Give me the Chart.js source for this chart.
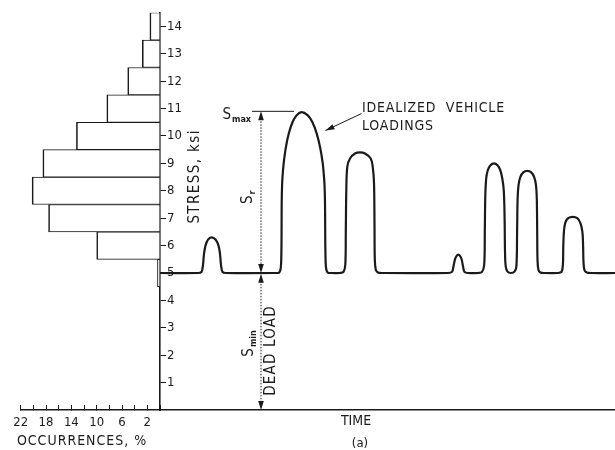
<!DOCTYPE html>
<html>
<head>
<meta charset="utf-8">
<script src="https://cdn.jsdelivr.net/npm/chart.js@4"></script>
<style>
  html, body { margin: 0; padding: 0; background: #fff; }
  #wrap { position: relative; width: 615px; height: 450px; }
  canvas { position: absolute; top: 0; left: 0; }
</style>
</head>
<body>
<div id="wrap">
  <canvas id="histChart" width="190" height="450"></canvas>
  <canvas id="timeChart" width="615" height="450"></canvas>
</div>
<script>
// stress histogram (left panel)
const stressBins = [5, 6, 7, 8, 9, 10, 11, 12, 13, 14];
const occurrencePct = [0.4, 10.0, 17.6, 20.2, 18.5, 13.2, 8.4, 5.1, 2.8, 1.6];
const stressTicks = [1, 2, 3, 4, 5, 6, 7, 8, 9, 10, 11, 12, 13, 14];
const occLabels = [2, 6, 10, 14, 18, 22];

// idealized stress history (right panel), time in arbitrary units
const timePts = [0, 38, 41.5, 43, 44, 45.5, 48, 51.7, 55.5, 58.5, 60, 61, 62.5, 66,
  116, 119.3, 120.8, 121.4, 121.6, 121.7, 122.1, 122.7, 123.7, 125.7, 128.7, 132.7, 136.7, 141.7,
  147.5, 152.2, 156.8, 160.3, 162.7, 163.8, 164.5, 165, 165.2, 165.4, 166, 167.6, 171,
  180, 183.5, 185.3, 185.8, 186.3, 187.3, 190, 195, 200, 205, 210.7, 212.7, 214, 214.5, 214.8, 215.8, 218, 222,
  288, 292, 293.5, 295, 296.8, 298.3, 299.8, 301.6, 303, 304.5, 308,
  318, 322, 324.2, 324.8, 325.3, 326.2, 327.8, 330.5, 334, 337.5, 340.3, 342.3, 343.8, 344.6, 345, 345.7, 347.5, 351,
  354.5, 356.4, 357.1, 357.6, 358.5, 360.3, 363.5, 367.3, 371, 374.2, 376, 376.8, 377.2, 377.5, 378.4, 380.5, 384,
  398, 401.5, 402.9, 403.3, 403.9, 405.2, 408.2, 412.7, 417.3, 420.4, 422.4, 423.1, 423.5, 424.5, 426.8, 431, 455];
const stressPts = [5.0, 5.0, 5.04, 5.3, 5.7, 6.0, 6.22, 6.3, 6.22, 6.0, 5.7, 5.3, 5.04, 5.0,
  5.0, 5.02, 5.2, 5.8, 6.8, 7.57, 8.23, 8.6, 9.01, 9.55, 10.08, 10.52, 10.76, 10.87,
  10.76, 10.52, 10.08, 9.55, 9.01, 8.6, 8.23, 7.57, 6.6, 5.8, 5.2, 5.02, 5.0,
  5.0, 5.04, 5.3, 6.5, 8.0, 8.88, 9.18, 9.36, 9.4, 9.36, 9.18, 8.88, 8.3, 6.8, 5.5, 5.12, 5.02, 5.0,
  5.0, 5.04, 5.25, 5.5, 5.63, 5.67, 5.63, 5.5, 5.25, 5.04, 5.0,
  5.0, 5.04, 5.3, 6.5, 7.8, 8.45, 8.75, 8.93, 9.0, 8.93, 8.75, 8.45, 8.0, 7.0, 5.8, 5.25, 5.05, 5.0,
  5.05, 5.25, 6.5, 7.7, 8.2, 8.5, 8.68, 8.73, 8.68, 8.5, 8.2, 7.7, 6.5, 5.5, 5.12, 5.02, 5.0,
  5.0, 5.04, 5.3, 6.0, 6.5, 6.82, 7.0, 7.05, 7.0, 6.82, 6.5, 6.0, 5.4, 5.1, 5.02, 5.0, 5.0];

const ink = '#1a1a1a';
const family = "'DejaVu Sans Condensed', 'Liberation Sans', sans-serif";

function arrowTip(ctx, x, y, ang) {
    ctx.save();
    ctx.translate(x, y);
    ctx.rotate(ang);
    ctx.beginPath();
    ctx.moveTo(0, 0);
    ctx.lineTo(-9, -2.8);
    ctx.lineTo(-9, 2.8);
    ctx.closePath();
    ctx.fill();
    ctx.restore();
}

// "S" with a subscript, centred on (cx, cy)
function subLabel(ctx, cx, cy, main, sub, rot) {
    ctx.save();
    ctx.translate(cx, cy);
    if (rot) ctx.rotate(rot);
    ctx.textBaseline = 'middle';
    ctx.textAlign = 'left';
    ctx.font = `15px ${family}`;
    let w1 = ctx.measureText(main).width;
    ctx.font = `9px ${family}`;
    let w2 = ctx.measureText(sub).width;
    let x0 = -(w1 + w2 + 1) / 2;
    ctx.font = `15px ${family}`;
    ctx.fillText(main, x0, 0);
    ctx.font = `bold 9px ${family}`;
    ctx.fillText(sub, x0 + w1 + 1, 5);
    ctx.restore();
}

function rotText(ctx, cx, cy, text, size, spacing) {
    ctx.save();
    ctx.translate(cx, cy);
    ctx.rotate(-Math.PI / 2);
    ctx.textAlign = 'center';
    ctx.textBaseline = 'middle';
    ctx.font = `${size}px ${family}`;
    ctx.letterSpacing = spacing + 'px';
    ctx.fillText(text, spacing / 2, 0);
    ctx.restore();
}

function dimLine(ctx, x, yTop, yBot) {
    ctx.save();
    ctx.lineWidth = 1;
    ctx.setLineDash([1.5, 1.5]);
    ctx.beginPath();
    ctx.moveTo(x, yTop + 4);
    ctx.lineTo(x, yBot - 4);
    ctx.stroke();
    ctx.restore();
    arrowTip(ctx, x, yTop, -Math.PI / 2);
    arrowTip(ctx, x, yBot, Math.PI / 2);
}

const annotate = {
    id: 'annotate',
    afterDraw(chart) {
        const {ctx, scales: {x, y}} = chart;
        const px = t => x.getPixelForValue(t);
        const py = s => y.getPixelForValue(s);
        ctx.save();
        ctx.fillStyle = ink;
        ctx.strokeStyle = ink;

        rotText(ctx, px(35), py(8.5), 'STRESS, ksi', 15, 1.4);

        // S max marker
        subLabel(ctx, px(76), py(10.78), 'S', 'max');
        ctx.lineWidth = 1;
        ctx.beginPath();
        ctx.moveTo(px(92), py(10.9));
        ctx.lineTo(px(134), py(10.9));
        ctx.stroke();

        dimLine(ctx, px(101), py(10.9), py(5.0));
        dimLine(ctx, px(101), py(4.97), py(0));

        subLabel(ctx, px(88), py(7.75), 'S', 'r', -Math.PI / 2);
        subLabel(ctx, px(89), py(2.4), 'S', 'min', -Math.PI / 2);
        rotText(ctx, px(111), py(2.15), 'DEAD LOAD', 15, 1.2);

        // vehicle loading callout
        ctx.save();
        ctx.font = `14px ${family}`;
        ctx.letterSpacing = '0.8px';
        ctx.textAlign = 'left';
        ctx.textBaseline = 'alphabetic';
        ctx.fillText('IDEALIZED  VEHICLE', px(202), py(10.88));
        ctx.fillText('LOADINGS', px(202), py(10.22));
        ctx.restore();
        let x1 = px(201.5), y1 = py(10.82), x2 = px(165.5), y2 = py(10.2);
        ctx.lineWidth = 1;
        ctx.beginPath();
        ctx.moveTo(x1, y1);
        ctx.lineTo(x2, y2);
        ctx.stroke();
        arrowTip(ctx, x2, y2, Math.atan2(y2 - y1, x2 - x1));

        ctx.textAlign = 'center';
        ctx.textBaseline = 'middle';
        ctx.font = `14px ${family}`;
        ctx.fillText('TIME', px(196), py(-0.4));
        ctx.font = `13px ${family}`;
        ctx.fillText('(a)', px(200), py(-1.22));
        ctx.restore();
    }
};

const occTitle = {
    id: 'occTitle',
    afterDraw(chart) {
        const {ctx, scales: {x}} = chart;
        ctx.save();
        ctx.fillStyle = ink;
        ctx.font = `14px ${family}`;
        ctx.letterSpacing = '1px';
        ctx.textAlign = 'left';
        ctx.textBaseline = 'middle';
        ctx.fillText('OCCURRENCES, %', x.getPixelForValue(22.6), x.bottom - 9);
        ctx.restore();
    }
};

new Chart(document.getElementById('histChart'), {
    type: 'bar',
    data: {
        datasets: [{
            data: stressBins.map((s, i) => ({x: occurrencePct[i], y: s})),
            backgroundColor: '#fff',
            borderColor: ink,
            borderWidth: {top: 1, bottom: 1, left: 1.6, right: 0},
            barPercentage: 1,
            categoryPercentage: 1
        }]
    },
    options: {
        indexAxis: 'y',
        responsive: false,
        animation: false,
        layout: {padding: {left: 20.7, top: 12.7, right: 0, bottom: 0}},
        plugins: {legend: {display: false}, tooltip: {enabled: false}},
        scales: {
            x: {
                type: 'linear', reverse: true, min: 0, max: 22, position: 'bottom',
                grid: {drawOnChartArea: false, tickLength: -5, color: ink, lineWidth: 1},
                border: {color: ink, width: 1.5},
                ticks: {
                    stepSize: 2, autoSkip: false, maxRotation: 0, minRotation: 0,
                    padding: 10, color: ink, font: {family: family, size: 13},
                    callback: (v) => occLabels.includes(v) ? String(v) : ''
                },
                afterFit: (s) => { s.height = 40; }
            },
            y: {
                type: 'linear', position: 'right', min: 0, max: 14.5, offset: false,
                afterBuildTicks: (s) => { s.ticks = stressTicks.map(v => ({value: v})); },
                grid: {drawOnChartArea: false, offset: false, tickLength: 6, color: ink, lineWidth: 1},
                border: {color: ink, width: 1.6},
                ticks: {padding: 1, color: ink, font: {family: family, size: 13}},
                afterFit: (s) => { s.width = 30; }
            }
        }
    },
    plugins: [occTitle]
});

new Chart(document.getElementById('timeChart'), {
    type: 'line',
    data: {
        datasets: [{
            data: timePts.map((t, i) => ({x: t, y: stressPts[i]})),
            borderColor: ink,
            borderWidth: 2.2,
            pointRadius: 0,
            fill: false,
            tension: 0.35
        }]
    },
    options: {
        responsive: false,
        animation: false,
        layout: {padding: {left: 160, top: 12.7, right: 0, bottom: 0}},
        plugins: {legend: {display: false}, tooltip: {enabled: false}},
        scales: {
            x: {
                type: 'linear', min: 0, max: 455,
                grid: {display: false},
                ticks: {display: false},
                border: {color: ink, width: 1.5},
                afterFit: (s) => { s.height = 40; }
            },
            y: {type: 'linear', min: 0, max: 14.5, display: false}
        }
    },
    plugins: [annotate]
});
</script>
</body>
</html>
